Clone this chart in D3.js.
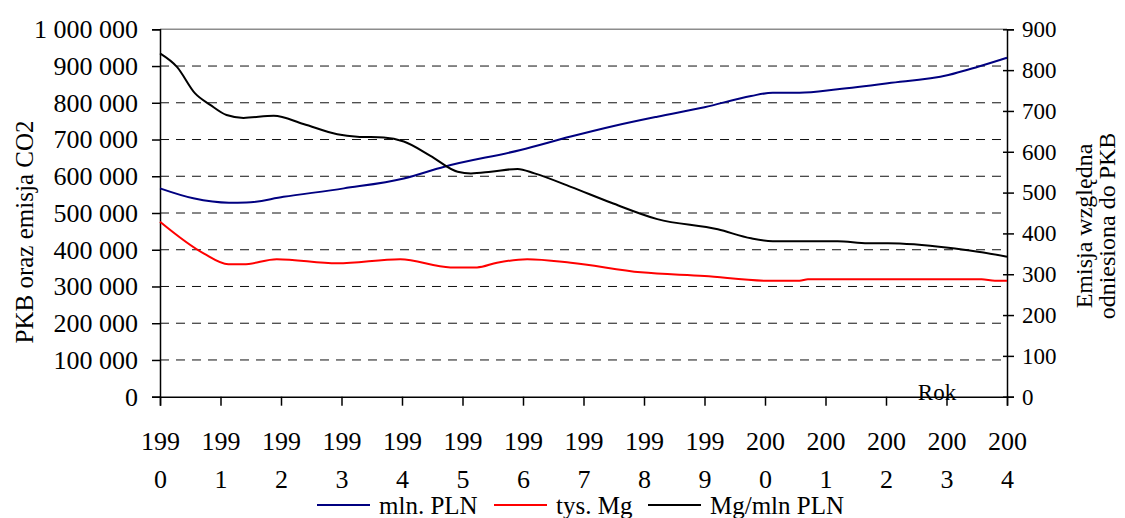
<!DOCTYPE html>
<html>
<head>
<meta charset="utf-8">
<script src="https://cdn.jsdelivr.net/npm/d3@7"></script>
<style>
  body { margin: 0; background: #fff; }
  svg { display: block; font-family: "Liberation Serif", "Times New Roman", serif; }
</style>
</head>
<body>
<div id="chart"></div>
<script>
let size = {width: 1125, height: 518};
let plot = {left: 160, right: 1007, top: 29.3, bottom: 396.7};

// lata na osi X
const years = [1990, 1991, 1992, 1993, 1994, 1995, 1996, 1997, 1998, 1999, 2000, 2001, 2002, 2003, 2004];
const leftTicks = [0, 100000, 200000, 300000, 400000, 500000, 600000, 700000, 800000, 900000, 1000000];
const rightTicks = [0, 100, 200, 300, 400, 500, 600, 700, 800, 900];

// PKB, mln. PLN  [rok, wartosc]
const pkb = [
  [1990.0, 567000], [1990.55, 540000], [1991.14, 528000], [1991.43, 528500],
  [1992.04, 544000], [1993.04, 567000], [1994.03, 594000], [1994.7, 626000],
  [1995.96, 671500], [1996.79, 708000], [1997.5, 736800], [1998.22, 762200],
  [1999.0, 787700], [1999.77, 818500], [2000.13, 827500], [2000.57, 827500],
  [2001.2, 836700], [2002.03, 853000], [2003.03, 875600], [2003.52, 898200],
  [2004.0, 922700]
];

// emisja CO2, tys. Mg
const emisja = [
  [1990.0, 476000], [1990.72, 390000], [1991.13, 360400], [1991.38, 360400],
  [1991.93, 374000], [1992.93, 363000], [1993.97, 374000], [1994.8, 352000],
  [1995.24, 352000], [1995.57, 364700], [1996.07, 374000], [1996.79, 364700],
  [1997.95, 338600], [1999.0, 328500], [2000.03, 315700], [2000.57, 315700],
  [2000.71, 319500], [2003.58, 319500], [2003.8, 315900], [2004.0, 315900]
];

// emisja wzgledna, Mg/mln PLN (prawa os)
const wzgledna = [
  [1990.0, 841], [1990.28, 808], [1990.58, 743], [1990.83, 715], [1991.1, 690],
  [1991.38, 683], [1991.88, 688], [1992.37, 668], [1992.93, 643], [1993.26, 637],
  [1993.7, 635], [1994.03, 625], [1994.47, 590], [1994.92, 551], [1995.14, 547],
  [1995.47, 551], [1995.91, 558], [1996.19, 547], [1996.79, 514], [1997.46, 475],
  [1998.22, 435], [1999.22, 410], [1999.77, 388], [2000.13, 381], [2001.2, 381],
  [2001.7, 376], [2002.03, 376], [2003.03, 365], [2003.52, 355], [2004.0, 343]
];

const legendItems = [
  {label: 'mln. PLN', color: '#000080', x: 317},
  {label: 'tys. Mg', color: '#ff0000', x: 494},
  {label: 'Mg/mln PLN', color: '#000000', x: 648}
];

const pl = d3.formatLocale({decimal: ',', thousands: ' ', grouping: [3], currency: ['', '']});

let svg = d3.select('#chart').append('svg')
  .attr('width', size.width)
  .attr('height', size.height);

svg.append('rect').attr('width', size.width).attr('height', size.height).attr('fill', '#fff');

let x = d3.scaleLinear().domain([1990, 2004]).range([plot.left, plot.right]);
let yL = d3.scaleLinear().domain([0, 1000000]).range([plot.bottom, plot.top]);
let yR = d3.scaleLinear().domain([0, 900]).range([plot.bottom, plot.top]);

// siatka
svg.append('g').selectAll('line')
  .data(leftTicks.filter(d => d > 0 && d < 1000000))
  .enter().append('line')
  .attr('x1', plot.left).attr('x2', plot.right)
  .attr('y1', d => yL(d)).attr('y2', d => yL(d))
  .attr('stroke', '#111').attr('stroke-width', 1)
  .attr('stroke-dasharray', '9,7');

svg.append('line')
  .attr('x1', plot.left).attr('x2', plot.right)
  .attr('y1', plot.top).attr('y2', plot.top)
  .attr('stroke', '#8c8c8c').attr('stroke-width', 1.5);

// osie
let gl = svg.append('g')
  .attr('transform', `translate(${plot.left},0)`)
  .call(d3.axisLeft(yL).tickValues(leftTicks).tickSizeOuter(0).tickSize(8).tickPadding(14)
    .tickFormat(pl.format(',')));
gl.selectAll('text').attr('font-size', 26).attr('font-family', 'Liberation Serif').attr('fill', '#000');

let gr = svg.append('g')
  .attr('transform', `translate(${plot.right},0)`)
  .call(d3.axisRight(yR).tickValues(rightTicks).tickSizeOuter(0).tickSize(7).tickPadding(8));
gr.selectAll('.tick line').attr('x1', -4);
gr.selectAll('text').attr('font-size', 23).attr('font-family', 'Liberation Serif').attr('fill', '#000');

let gx = svg.append('g')
  .attr('transform', `translate(0,${plot.bottom})`)
  .call(d3.axisBottom(x).tickValues(years).tickSizeOuter(0).tickSize(9).tickFormat(''));
gx.selectAll('.tick text').remove();
gx.selectAll('.tick').append('text')
  .attr('font-size', 26).attr('font-family', 'Liberation Serif').attr('fill', '#000')
  .attr('text-anchor', 'middle')
  .each(function(d) {
    let s = String(d);
    let t = d3.select(this);
    t.append('tspan').attr('x', 0).attr('y', 53).text(s.slice(0, 3));
    t.append('tspan').attr('x', 0).attr('y', 91).text(s.slice(3));
  });

[gl, gr, gx].forEach(g => {
  g.selectAll('.domain, .tick line').attr('stroke', '#000').attr('stroke-width', 1.5);
});

// linie danych
let line = d3.line().curve(d3.curveMonotoneX);
svg.append('path')
  .attr('d', line.x(d => x(d[0])).y(d => yL(d[1]))(pkb))
  .attr('fill', 'none').attr('stroke', '#000080').attr('stroke-width', 2);
svg.append('path')
  .attr('d', line.x(d => x(d[0])).y(d => yL(d[1]))(emisja))
  .attr('fill', 'none').attr('stroke', '#ff0000').attr('stroke-width', 2);
svg.append('path')
  .attr('d', line.x(d => x(d[0])).y(d => yR(d[1]))(wzgledna))
  .attr('fill', 'none').attr('stroke', '#000').attr('stroke-width', 2);

// tytuly osi
svg.append('text')
  .attr('transform', 'translate(33,232) rotate(-90)')
  .attr('text-anchor', 'middle').attr('font-size', 25)
  .text('PKB oraz emisja CO2');

let rt = svg.append('text')
  .attr('transform', 'translate(1092,226) rotate(-90)')
  .attr('text-anchor', 'middle').attr('font-size', 24);
rt.append('tspan').attr('x', 0).attr('y', 0).text('Emisja względna');
rt.append('tspan').attr('x', 0).attr('y', 23).text('odniesiona do PKB');

svg.append('text')
  .attr('x', 937).attr('y', 400)
  .attr('text-anchor', 'middle').attr('font-size', 23)
  .text('Rok');

// legenda
let lg = svg.append('g').selectAll('g').data(legendItems).enter().append('g');
lg.append('line')
  .attr('x1', d => d.x).attr('x2', d => d.x + 53)
  .attr('y1', 505).attr('y2', 505)
  .attr('stroke', d => d.color).attr('stroke-width', 2);
lg.append('text')
  .attr('x', d => d.x + 62).attr('y', 514)
  .attr('font-size', 25)
  .text(d => d.label);
</script>
</body>
</html>
